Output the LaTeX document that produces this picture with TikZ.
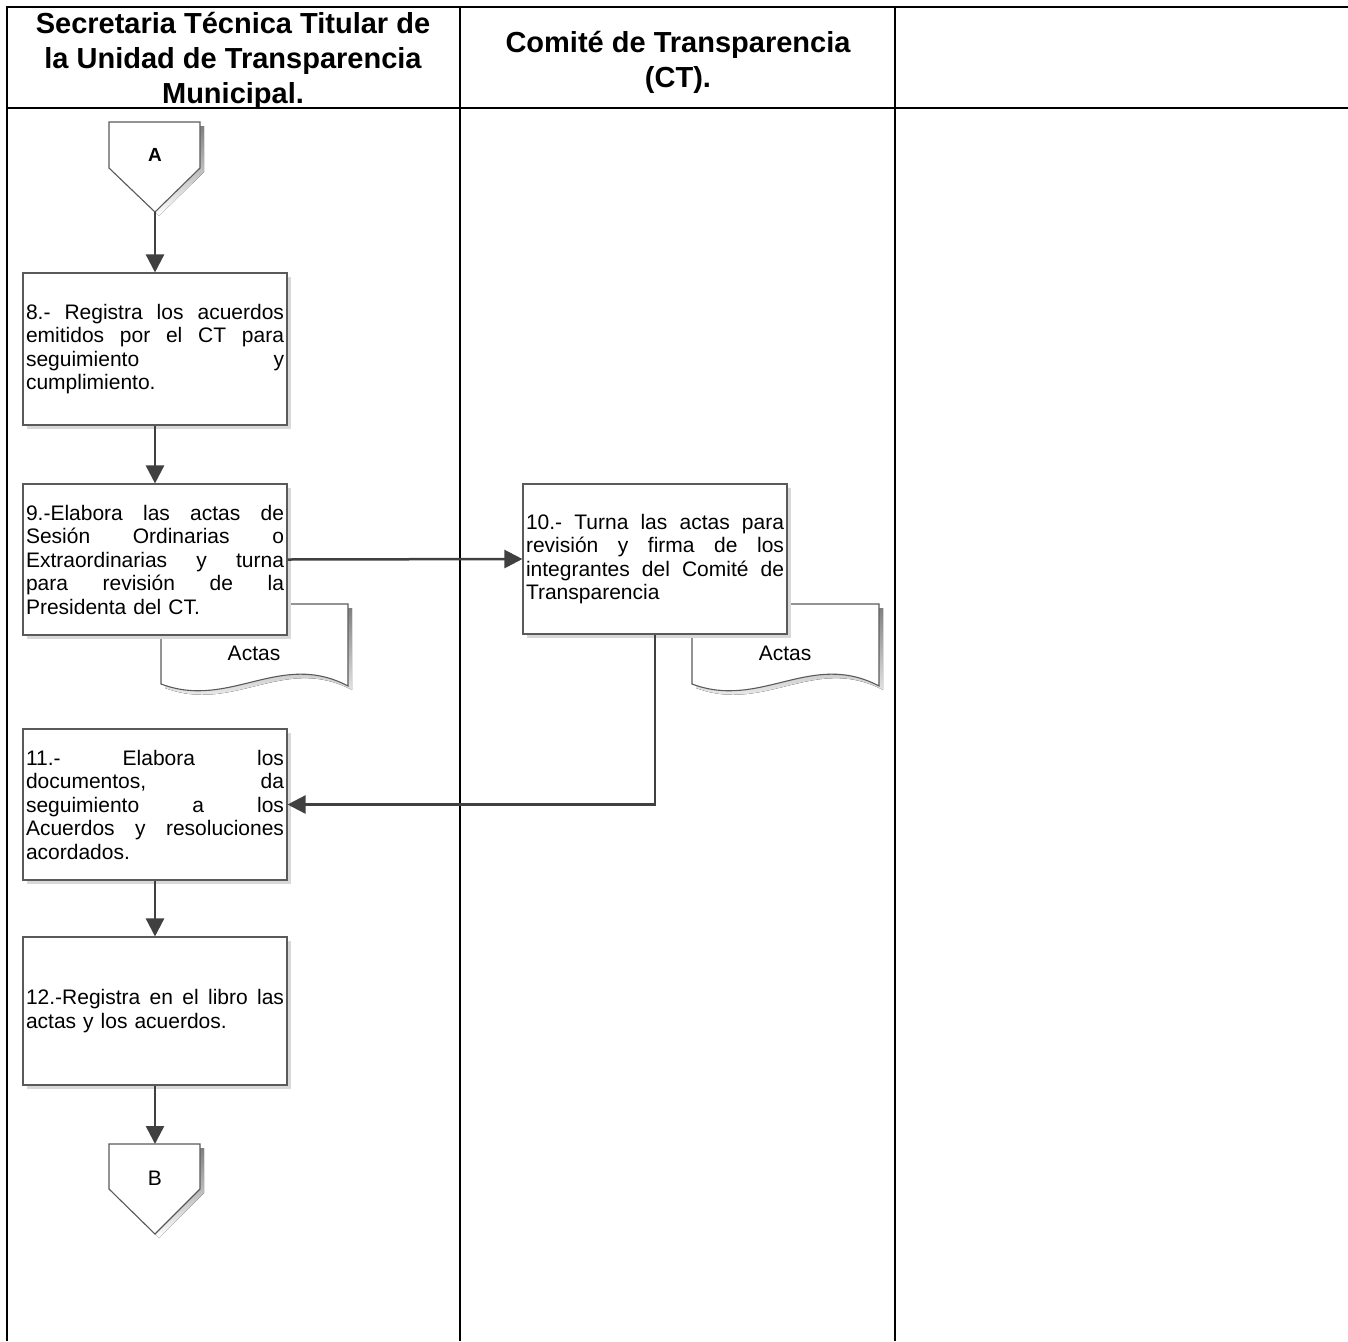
\documentclass[tikz,border=0pt]{standalone}
\usepackage{fontspec}
\setmainfont{Liberation Sans}
\usetikzlibrary{arrows.meta,shadows}

\definecolor{edge}{HTML}{5A5A5A}
\definecolor{shade}{HTML}{D8D8D8}
\definecolor{flow}{HTML}{404040}

% a fully justified line of box text (spaces stretch to fill the line)
\newcommand\jl[1]{\leavevmode\hbox to 258pt{\spaceskip=.28em plus 1fil\relax#1}}

\begin{document}
\begin{tikzpicture}[x=1pt,y=-1pt,
  grid/.style={line width=1.8pt, black},
  head/.style={font=\bfseries\fontsize{29}{35}\selectfont, align=center},
  task/.style={draw=edge, line width=1.1pt, fill=white, minimum width=264pt,
    inner xsep=3pt, inner ysep=0pt, text width=258pt, align=left,
    font=\fontsize{21}{23.5}\selectfont,
    drop shadow={shadow xshift=4pt, shadow yshift=-4pt, fill=shade, opacity=1}},
  outline/.style={draw=edge, line width=1.1pt, fill=white},
  flowline/.style={draw=flow, line width=2.5pt, -{Triangle[length=18pt,width=18pt]}}
]
\useasboundingbox (0,0) rectangle (1348,1341);

% swimlane table
\draw[grid] (7,1341) -- (7,7) -- (1348,7);
\draw[grid] (7,108) -- (1348,108);
\draw[grid] (460,7) -- (460,1341);
\draw[grid] (895,7) -- (895,1341);

\node[head] (h1) at (233,60.5) {Secretaria Técnica Titular de\\la Unidad de Transparencia\\Municipal.};
\node[head] (h2) at (678,62.5) {Comité de Transparencia\\(CT).};

% off-page connector A
\fill[shade, shift={(4,4)}] (109,122) -- (200,122) -- (200,168) -- (155,212) -- (109,168) -- cycle;
\draw[outline] (109,122) -- (200,122) -- (200,168) -- (155,212) -- (109,168) -- cycle;
\node[font=\bfseries\fontsize{19}{22}\selectfont] (A) at (155,155) {A};
\coordinate (Atip) at (155,212);

% documents "Actas"
\foreach \dx/\nm in {0/d1, 531/d2}{
  \begin{scope}[xshift=\dx pt]
    \fill[shade, shift={(4,4)}] (161,604) -- (348,604) -- (348,686)
      .. controls (280,650) and (230,710) .. (161,684) -- cycle;
    \draw[outline] (161,604) -- (348,604) -- (348,686)
      .. controls (280,650) and (230,710) .. (161,684) -- cycle;
    \node[font=\fontsize{21}{24}\selectfont] (\nm) at (254,653) {Actas};
  \end{scope}
}

% process boxes
\node[task, minimum height=152pt] (b8) at (155,349)
  {\jl{8.- Registra los acuerdos}\\\jl{emitidos por el CT para}\\\jl{seguimiento y}\\cumplimiento.};
\node[task, minimum height=151pt] (b9) at (155,559.5)
  {\jl{9.-Elabora las actas de}\\\jl{Sesión Ordinarias o}\\\jl{Extraordinarias y turna}\\\jl{para revisión de la}\\Presidenta del CT.};
\node[task, minimum height=150pt] (b10) at (655,559)
  {\jl{10.- Turna las actas para}\\\jl{revisión y firma de los}\\\jl{integrantes del Comité de}\\Transparencia};
\node[task, minimum height=151pt] (b11) at (155,804.5)
  {\jl{11.- Elabora los}\\\jl{documentos, da}\\\jl{seguimiento a los}\\\jl{Acuerdos y resoluciones}\\acordados.};
\node[task, minimum height=148pt] (b12) at (155,1011)
  {\jl{12.-Registra en el libro las}\\actas y los acuerdos.};

% off-page connector B
\fill[shade, shift={(4,4)}] (109,1144) -- (200,1144) -- (200,1189) -- (155,1234) -- (109,1189) -- cycle;
\draw[outline] (109,1144) -- (200,1144) -- (200,1189) -- (155,1234) -- (109,1189) -- cycle;
\node[font=\fontsize{21}{24}\selectfont] (B) at (155,1178) {B};
\coordinate (Btop) at (155,1144);

% flow connectors
\draw[flowline] (Atip) -- (b8.north);
\draw[flowline] (b8.south) -- (b9.north);
\draw[flowline] (b9.east) -- (b10.west);
\draw[flowline] (b10.south) |- (b11.east);
\draw[flowline] (b11.south) -- (b12.north);
\draw[flowline] (b12.south) -- (Btop);
\end{tikzpicture}
\end{document}
